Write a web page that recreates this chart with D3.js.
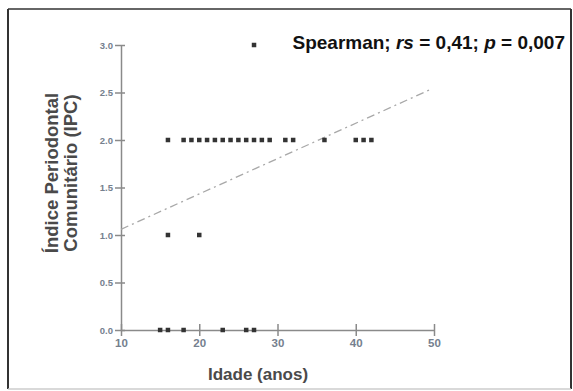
<!DOCTYPE html>
<html>
<head>
<meta charset="utf-8">
<script src="https://cdn.jsdelivr.net/npm/d3@7"></script>
<style>
  html, body { margin: 0; padding: 0; background: #fff; }
  svg { display: block; }
</style>
</head>
<body>
<div id="chart"></div>
<script>
// data
const idade = [27, 16, 18, 19, 20, 21, 22, 23, 24, 25, 26, 27, 28, 29, 31, 32, 36, 40, 41, 42, 16, 20, 15, 16, 18, 23, 26, 27];
const ipc   = [3, 2, 2, 2, 2, 2, 2, 2, 2, 2, 2, 2, 2, 2, 2, 2, 2, 2, 2, 2, 1, 1, 0, 0, 0, 0, 0, 0];
const trendX = [10, 49.5];
const trendY = [1.06, 2.53];
const xTicks = [10, 20, 30, 40, 50];
const yTicks = [0, 0.5, 1, 1.5, 2, 2.5, 3];

const W = 573, H = 391;
const svg = d3.select('#chart').append('svg')
    .attr('width', W)
    .attr('height', H);

// frame
svg.append('line').attr('x1', 8).attr('y1', 9).attr('x2', 571).attr('y2', 9)
    .attr('stroke', '#333').attr('stroke-width', 1.5);
svg.append('line').attr('x1', 8).attr('y1', 9).attr('x2', 8).attr('y2', 389)
    .attr('stroke', '#333').attr('stroke-width', 2);
svg.append('line').attr('x1', 571).attr('y1', 9).attr('x2', 571).attr('y2', 389)
    .attr('stroke', '#333').attr('stroke-width', 2);
svg.append('line').attr('x1', 8).attr('y1', 389).attr('x2', 571).attr('y2', 389)
    .attr('stroke', '#ccc').attr('stroke-width', 1.5);

const x = d3.scaleLinear().domain([10, 50]).range([121, 434]);
const y = d3.scaleLinear().domain([0, 3]).range([330, 45]);

const axisColor = '#8a8a8a';
const tickColor = '#75808e';

// x axis
const gx = svg.append('g')
    .attr('transform', `translate(0,${y(0)})`)
    .call(d3.axisBottom(x).tickValues(xTicks).tickSize(0).tickSizeOuter(0).tickPadding(9).tickFormat(d3.format('d')));
gx.select('.domain').attr('stroke', axisColor).attr('stroke-width', 1.5);
gx.selectAll('.tick line').attr('y1', -6).attr('y2', 6).attr('stroke', axisColor).attr('stroke-width', 1.5);
gx.selectAll('.tick text').attr('fill', tickColor).attr('font-size', 11.5)
    .attr('font-family', 'Liberation Sans, Arial, sans-serif').attr('font-weight', 'bold');

// y axis
const gy = svg.append('g')
    .attr('transform', `translate(${x(10)},0)`)
    .call(d3.axisLeft(y).tickValues(yTicks).tickSize(0).tickSizeOuter(0).tickPadding(8).tickFormat(d3.format('.1f')));
gy.select('.domain').attr('stroke', axisColor).attr('stroke-width', 1.5);
gy.selectAll('.tick line').attr('x1', -6).attr('x2', 4).attr('stroke', axisColor).attr('stroke-width', 1.5);
gy.selectAll('.tick text').attr('fill', tickColor).attr('font-size', 9.5)
    .attr('font-family', 'Liberation Sans, Arial, sans-serif').attr('font-weight', 'bold');

// trend line (dash-dot)
svg.append('path')
    .datum(trendX.map((d, i) => [d, trendY[i]]))
    .attr('fill', 'none')
    .attr('stroke', '#a8a8a8')
    .attr('stroke-width', 1.3)
    .attr('stroke-dasharray', '8,4,2,4')
    .attr('d', d3.line().x(d => x(d[0])).y(d => y(d[1])));

// points
const s = 4.5;
svg.append('g').selectAll('rect')
    .data(idade.map((d, i) => ({ a: d, v: ipc[i] })))
    .join('rect')
    .attr('x', d => x(d.a) - s / 2)
    .attr('y', d => y(d.v) - s / 2)
    .attr('width', s)
    .attr('height', s)
    .attr('fill', '#333');

// title with italic rs and p
const t = svg.append('text')
    .attr('x', 565).attr('y', 49)
    .attr('text-anchor', 'end')
    .attr('font-family', 'Liberation Sans, Arial, sans-serif')
    .attr('font-size', 19)
    .attr('font-weight', 'bold')
    .attr('fill', '#111');
t.append('tspan').text('Spearman; ');
t.append('tspan').attr('font-style', 'italic').text('rs');
t.append('tspan').text(' = 0,41; ');
t.append('tspan').attr('font-style', 'italic').text('p');
t.append('tspan').text(' = 0,007');

// axis titles
svg.append('text')
    .attr('x', 258).attr('y', 380)
    .attr('text-anchor', 'middle')
    .attr('font-family', 'Liberation Sans, Arial, sans-serif')
    .attr('font-size', 17)
    .attr('font-weight', 'bold')
    .attr('fill', '#4a4a4a')
    .text('Idade (anos)');

const yl = svg.append('text')
    .attr('transform', 'translate(58,173) rotate(-90)')
    .attr('text-anchor', 'middle')
    .attr('font-family', 'Liberation Sans, Arial, sans-serif')
    .attr('font-size', 18.5)
    .attr('font-weight', 'bold')
    .attr('fill', '#4a4a4a');
yl.append('tspan').attr('x', 0).attr('dy', 0).text('Índice Periodontal');
yl.append('tspan').attr('x', 0).attr('dy', 19).text('Comunitário (IPC)');
</script>
</body>
</html>
